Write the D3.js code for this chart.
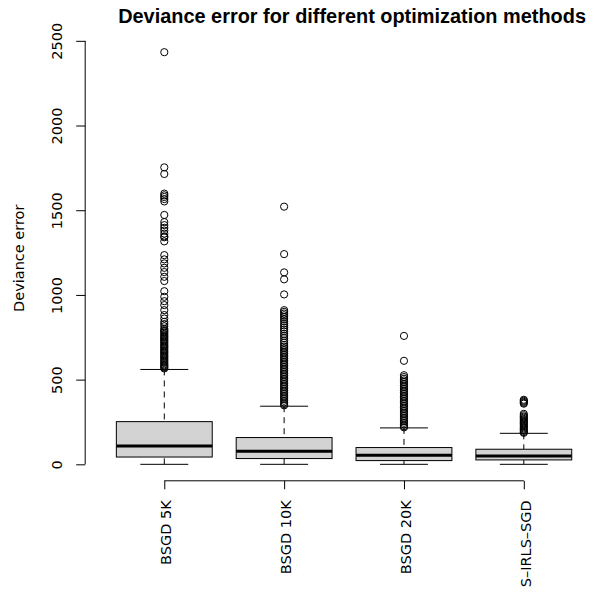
<!DOCTYPE html>
<html>
<head>
<meta charset="utf-8">
<script src="https://cdn.jsdelivr.net/npm/d3@7"></script>
<style>
  html, body { margin: 0; padding: 0; background: #fff; }
  svg { display: block; }
  text { font-family: "DejaVu Sans", "Liberation Sans", sans-serif; fill: #000; }
</style>
</head>
<body>
<svg id="chart" width="595" height="593"></svg>
<script>
// ---- data ----
const categories = ["BSGD 5K", "BSGD 10K", "BSGD 20K", "S\u2013IRLS\u2013SGD"];
const lowerWhisker = [0, 0, 0, 0];
const q1 = [43, 34, 22, 26];
const medians = [108, 77, 53, 49];
const q3 = [252, 158, 99, 89];
const upperWhisker = [560, 343, 215, 183];

const outliersBSGD5K = [2433, 1753, 1714, 1598, 1588, 1578, 1566, 1552, 1472, 1430, 1412, 1396,
  1380, 1362, 1346, 1340, 1316, 1235, 1210, 1186, 1160, 1135, 1107, 1082, 1022, 989, 963, 940,
  910, 881, 861, 841, 828, 815, 800, 792, 785, 778, 770, 762, 755, 748, 740, 733, 726, 718, 710,
  702, 695, 688, 680, 672, 665, 658, 650, 642, 635, 628, 620, 612, 605, 598, 590, 584, 578, 572, 566];
const outliersBSGD10K = [1521, 1241, 1133, 1092, 1003, 910, 900, 890, 880, 870, 858, 845, 832, 820,
  808, 796, 785, 770, 758, 745, 730, 718, 705, 695, 685, 675, 665, 655, 645, 635, 625, 615, 605,
  595, 585, 575, 565, 555, 545, 535, 525, 515, 505, 495, 485, 475, 465, 455, 445, 435, 425, 415,
  405, 395, 385, 375, 365, 355, 348];
const outliersBSGD20K = [758, 611, 526, 515, 505, 495, 485, 475, 465, 455, 445, 435, 425, 415, 405,
  395, 385, 375, 365, 355, 345, 335, 325, 315, 305, 295, 285, 275, 265, 255, 245, 235, 225, 218];
const outliersSIRLS = [381, 375, 369, 363, 358, 298, 290, 282, 275, 268, 261, 254, 247, 240, 233,
  226, 219, 212, 205, 198, 191, 186];
const outliers = [outliersBSGD5K, outliersBSGD10K, outliersBSGD20K, outliersSIRLS];
const yTicks = [0, 500, 1000, 1500, 2000, 2500];

const titleText = "Deviance error for different optimization methods";
const yLabel = "Deviance error";

// ---- layout ----
const svg = d3.select("#chart");
const plot = { left: 85.2, right: 602.9, top: 35.7, bottom: 480.8 };

const y = d3.scaleLinear().domain([-97.3, 2530.3]).range([plot.bottom, plot.top]);
const x = d3.scaleLinear().domain([0.34, 4.66]).range([plot.left, plot.right]);
const step = x(2) - x(1);
const boxW = step * 0.8;
const capW = boxW * 0.5;

const groups = categories.map((c, i) => ({
  name: c, pos: i + 1, lo: lowerWhisker[i], q1: q1[i], med: medians[i], q3: q3[i], hi: upperWhisker[i], out: outliers[i]
}));

const g = svg.selectAll("g.box").data(groups).join("g").attr("class", "box");

// whiskers (dashed)
g.append("line")
  .attr("x1", d => x(d.pos)).attr("x2", d => x(d.pos))
  .attr("y1", d => y(d.hi)).attr("y2", d => y(d.q3))
  .attr("stroke", "#000").attr("stroke-width", 1).attr("stroke-dasharray", "6,5");
g.append("line")
  .attr("x1", d => x(d.pos)).attr("x2", d => x(d.pos))
  .attr("y1", d => y(d.lo)).attr("y2", d => y(d.q1))
  .attr("stroke", "#000").attr("stroke-width", 1).attr("stroke-dasharray", "6,5");
// staples
g.append("line")
  .attr("x1", d => x(d.pos) - capW / 2).attr("x2", d => x(d.pos) + capW / 2)
  .attr("y1", d => y(d.hi)).attr("y2", d => y(d.hi))
  .attr("stroke", "#000").attr("stroke-width", 1);
g.append("line")
  .attr("x1", d => x(d.pos) - capW / 2).attr("x2", d => x(d.pos) + capW / 2)
  .attr("y1", d => y(d.lo)).attr("y2", d => y(d.lo))
  .attr("stroke", "#000").attr("stroke-width", 1);
// boxes
g.append("rect")
  .attr("x", d => x(d.pos) - boxW / 2).attr("width", boxW)
  .attr("y", d => y(d.q3)).attr("height", d => y(d.q1) - y(d.q3))
  .attr("fill", "#d3d3d3").attr("stroke", "#000").attr("stroke-width", 1);
// medians
g.append("line")
  .attr("x1", d => x(d.pos) - boxW / 2).attr("x2", d => x(d.pos) + boxW / 2)
  .attr("y1", d => y(d.med)).attr("y2", d => y(d.med))
  .attr("stroke", "#000").attr("stroke-width", 3);
// outliers
g.each(function(d) {
  d3.select(this).selectAll("circle").data(d.out).join("circle")
    .attr("cx", x(d.pos)).attr("cy", v => y(v)).attr("r", 3.6)
    .attr("fill", "none").attr("stroke", "#000").attr("stroke-width", 1);
});

// ---- y axis ----
const yAxis = d3.axisLeft(y).tickValues(yTicks).tickSize(9).tickFormat(d3.format("d"));
const yg = svg.append("g").attr("transform", `translate(${plot.left},0)`).call(yAxis);
yg.select(".domain").remove();
yg.append("line").attr("x1", 0).attr("x2", 0).attr("y1", y(0)).attr("y2", y(2500))
  .attr("stroke", "#000");
yg.selectAll(".tick line").attr("stroke", "#000");
yg.selectAll(".tick text")
  .attr("transform", "rotate(-90)")
  .attr("x", 0).attr("y", -23).attr("dy", 0)
  .attr("text-anchor", "middle")
  .style("font-size", "14.5px").style("font-family", "DejaVu Sans");

// ---- x axis ----
const xAxis = d3.axisBottom(x).tickValues([1, 2, 3, 4]).tickSize(8.5).tickFormat(i => categories[i - 1]);
const xg = svg.append("g").attr("transform", `translate(0,${plot.bottom})`).call(xAxis);
xg.select(".domain").remove();
xg.append("line").attr("x1", x(1)).attr("x2", x(4)).attr("y1", 0).attr("y2", 0).attr("stroke", "#000");
xg.selectAll(".tick line").attr("stroke", "#000");
xg.selectAll(".tick text")
  .attr("transform", "rotate(-90)")
  .attr("x", -19.5).attr("y", 6.5).attr("dy", 0)
  .attr("text-anchor", "end")
  .style("font-size", "14.5px").style("font-family", "DejaVu Sans");

// ---- labels ----
svg.append("text")
  .attr("transform", `translate(24,${(plot.top + plot.bottom) / 2}) rotate(-90)`)
  .attr("text-anchor", "middle")
  .style("font-size", "14.5px")
  .text(yLabel);

const title = svg.append("text")
  .attr("x", 586).attr("y", 22.5)
  .attr("text-anchor", "end")
  .style("font-family", "'Liberation Sans', Arial, sans-serif")
  .style("font-size", "18px").style("font-weight", "bold")
  .text(titleText);
const tw = title.node().getComputedTextLength();
title.style("font-size", (18 * 468 / tw).toFixed(2) + "px");
</script>
</body>
</html>
